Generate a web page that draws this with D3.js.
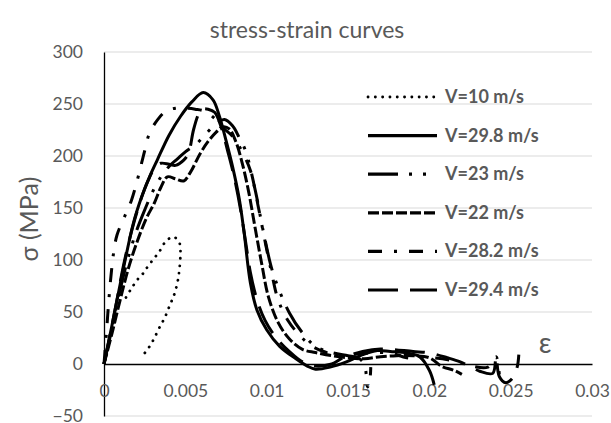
<!DOCTYPE html>
<html>
<head>
<meta charset="utf-8">
<script src="https://cdn.jsdelivr.net/npm/d3@7"></script>
<style>
  html, body { margin: 0; padding: 0; background: #fff; }
  svg { display: block; font-family: Lato, "Open Sans", sans-serif; }
</style>
</head>
<body>
<svg id="chart" width="611" height="423"></svg>
<script>
// Stress-strain curves at several impact velocities: [strain, stress (MPa)]
const seriesNames = ["V=10 m/s", "V=29.8 m/s", "V=23 m/s", "V=22 m/s", "V=28.2 m/s", "V=29.4 m/s"];

const v10 = [[0.00135,64],[0.0017,73],[0.0021,82],[0.0024,87],[0.0027,94],[0.0031,102],[0.0034,108],
  [0.00375,117],[0.0041,121.5],[0.0043,122],[0.0045,120],[0.00467,115],[0.0047,106],[0.00463,90],
  [0.00451,78],[0.0043,66],[0.00406,57],[0.00375,45],[0.00344,36],[0.00303,23],[0.00272,15],[0.00232,7]];

const v298 = [[0,0],[0.0005,38],[0.001,77],[0.0018,135],[0.0023,160],[0.0028,180],[0.0033,197],
  [0.004,220],[0.0047,238],[0.0054,252],[0.0061,261],[0.0067,254],[0.0071,238],[0.0075,215],
  [0.0079,190],[0.0083,160],[0.0086,128],[0.009,78],[0.0094,52],[0.01,33],[0.0108,17],[0.0118,5],
  [0.0125,-2],[0.013,-5],[0.0139,-3],[0.0149,2],[0.0159,9],[0.0168,13],[0.0176,12],[0.0186,10.5],
  [0.0194,7],[0.02,-6],[0.0203,-20]];

const v23 = [[0,0],[0.0005,35],[0.001,72],[0.0015,103],[0.002,128],[0.0025,148],[0.003,166],
  [0.0035,180],[0.004,190],[0.0045,197],[0.005,204],[0.0057,212],[0.0063,222],[0.0069,231],
  [0.0074,235],[0.0079,229],[0.0083,218],[0.0087,205],[0.0093,167],[0.0098,127],[0.0104,87],
  [0.0114,49],[0.0122,30],[0.013,17],[0.014,11],[0.015,8],[0.0156,6],[0.016,0],[0.0162,-22],
  [0.01635,-14],[0.0164,-3]];

const v22 = [[0,0],[0.0005,30],[0.001,62],[0.0015,92],[0.002,116],[0.0026,140],[0.0031,155],
  [0.0035,170],[0.0039,180],[0.0044,178],[0.0049,176],[0.0053,184],[0.0059,202],[0.0064,214],
  [0.0069,223],[0.0073,228],[0.0077,226],[0.0081,214],[0.0085,193],[0.0089,165],[0.0093,130],
  [0.0097,96],[0.0101,65],[0.0107,40],[0.0114,24],[0.0122,14],[0.013,11],[0.014,8],[0.015,6],
  [0.016,5],[0.017,7],[0.018,8],[0.019,8],[0.02,6],[0.0208,-2.6],[0.0215,-6],[0.022,-10]];

const v282 = [[0,0],[0.00015,30],[0.0003,62],[0.00045,88],[0.0006,108],[0.0008,124],[0.0013,143],
  [0.0017,158],[0.0021,180],[0.0025,205],[0.0028,222],[0.0033,235],[0.0038,243],[0.0044,246],
  [0.005,246],[0.0056,245],[0.0062,243],[0.0068,236],[0.0074,226],[0.0079,219],[0.0085,204],
  [0.009,186],[0.0095,150],[0.0099,118],[0.0103,88],[0.0107,62],[0.0113,42],[0.012,28],
  [0.0127,18],[0.0135,12],[0.0145,8],[0.0158,10],[0.017,11],[0.0178,10],[0.0186,6],[0.0201,6],
  [0.0215,3],[0.0226,-2],[0.0236,-3],[0.0241,7],[0.0243,-10]];

const v294 = [[0,0],[0.0004,30],[0.0008,62],[0.0012,95],[0.0017,128],[0.0022,155],[0.0027,176],
  [0.0031,188],[0.0035,193],[0.004,192],[0.0044,191],[0.0049,196],[0.0052,203],[0.0055,225],
  [0.0058,240],[0.006,245],[0.0064,245],[0.0068,242],[0.0072,228],[0.0076,205],[0.008,180],
  [0.0084,148],[0.0087,118],[0.009,88],[0.0094,62],[0.0099,42],[0.0106,25],[0.0114,12],
  [0.0122,2],[0.013,-2],[0.014,0],[0.0147,6],[0.0159,12],[0.017,14.5],[0.019,12],[0.02,10.6],
  [0.0211,6],[0.0219,2],[0.0227,-4],[0.0231,-7],[0.0239,-9],[0.0241,7],[0.0243,-12],
  [0.0247,-18],[0.0251,-14],[0.0254,-3],[0.0255,9]];

const xTicks = [0, 0.005, 0.01, 0.015, 0.02, 0.025, 0.03];
const yTicks = [-50, 0, 50, 100, 150, 200, 250, 300];

const seriesData = [v10, v298, v23, v22, v282, v294];
const dashes = ["0.1 7.2", null, "30 11 3 11 3 11", "11 3", "14 12 3 12", "30 12"];
const caps = ["round", "butt", "butt", "butt", "butt", "butt"];

const svg = d3.select("#chart");
const textColor = "#595959";

const x = d3.scaleLinear().domain([0, 0.03]).range([104, 592]);
const y = d3.scaleLinear().domain([-50, 300]).range([416, 52]);

// horizontal gridlines
svg.append("g").selectAll("line")
  .data(yTicks.filter(d => d !== 0))
  .join("line")
  .attr("x1", x(0)).attr("x2", x(0.03))
  .attr("y1", d => y(d)).attr("y2", d => y(d))
  .attr("stroke", "#d9d9d9").attr("stroke-width", 1.2);

// y axis: labels on the left, plain black line
const yAxis = d3.axisLeft(y).tickValues(yTicks).tickSize(0).tickPadding(21).tickFormat(d3.format("d"));
const gy = svg.append("g").attr("transform", `translate(${x(0)},0)`).call(yAxis);
gy.select(".domain").attr("stroke", "#000").attr("stroke-width", 1.3);
gy.selectAll("text").attr("fill", textColor).attr("font-size", 17.5).attr("font-family", "Lato, sans-serif");

// x axis along sigma = 0, labels beneath
const xAxis = d3.axisBottom(x).tickValues(xTicks).tickSize(0).tickPadding(21)
  .tickFormat(d => d === 0 ? "0" : String(+d.toFixed(3)));
const gx = svg.append("g").attr("transform", `translate(0,${y(0)})`).call(xAxis);
gx.select(".domain").attr("stroke", "#000").attr("stroke-width", 1.3);
gx.selectAll("text").attr("fill", textColor).attr("font-size", 17.5).attr("font-family", "Lato, sans-serif");

// curves
const line = d3.line().x(d => x(d[0])).y(d => y(d[1])).curve(d3.curveCatmullRom.alpha(0.5));
const plot = svg.append("g");
seriesData.forEach((s, i) => {
  plot.append("path")
    .datum(s)
    .attr("d", line)
    .attr("fill", "none")
    .attr("stroke", "#000")
    .attr("stroke-width", i === 0 ? 2.8 : 3)
    .attr("stroke-linecap", caps[i])
    .attr("stroke-linejoin", "round")
    .attr("stroke-dasharray", dashes[i]);
});

// legend
const legend = svg.append("g");
seriesNames.forEach((name, i) => {
  const ly = 97 + i * 38.6;
  legend.append("line")
    .attr("x1", 368).attr("x2", 437).attr("y1", ly).attr("y2", ly)
    .attr("stroke", "#000").attr("stroke-width", i === 0 ? 2.8 : 3.2)
    .attr("stroke-linecap", caps[i])
    .attr("stroke-dasharray", dashes[i]);
  legend.append("text")
    .attr("x", 445).attr("y", ly + 6)
    .attr("fill", textColor).attr("font-size", 18).attr("font-weight", "bold")
    .text(name);
});

// titles
svg.append("text").attr("x", 307).attr("y", 38).attr("text-anchor", "middle")
  .attr("fill", textColor).attr("font-size", 23).text("stress-strain curves");

svg.append("text")
  .attr("transform", "translate(38,219) rotate(-90)")
  .attr("text-anchor", "middle")
  .attr("fill", textColor).attr("font-size", 25).text("σ (MPa)");

svg.append("text").attr("x", 545).attr("y", 353).attr("text-anchor", "middle")
  .attr("fill", textColor).attr("font-size", 28).text("ε");
</script>
</body>
</html>
